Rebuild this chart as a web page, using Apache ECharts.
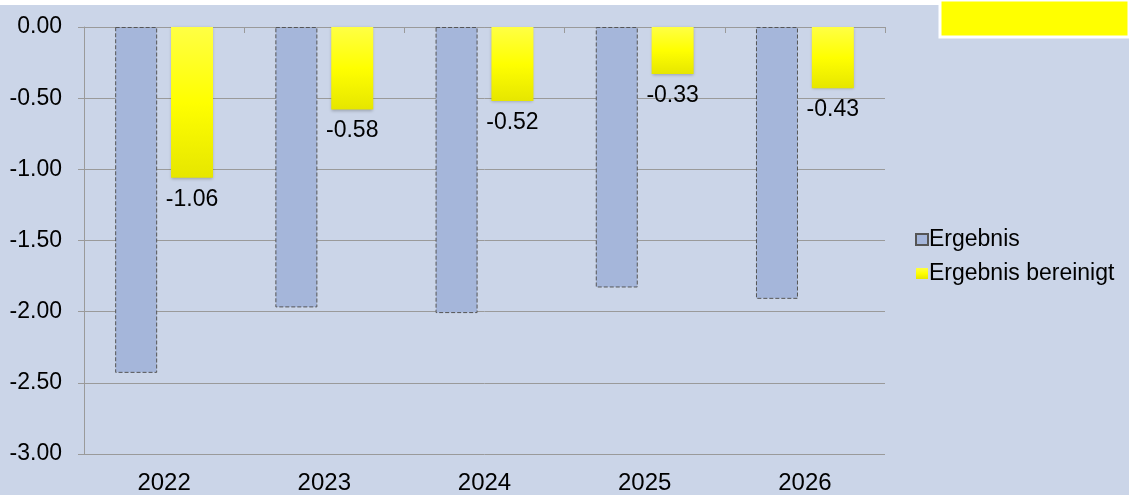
<!DOCTYPE html>
<html>
<head>
<meta charset="utf-8">
<script src="https://cdn.jsdelivr.net/npm/echarts@6/dist/echarts.min.js"></script>
<style>
  html, body { margin:0; padding:0; background:#fff; }
  #chart { width:1129px; height:495px; }
</style>
</head>
<body>
<div id="chart"></div>
<script>
// Jahre
var years = ["2022", "2023", "2024", "2025", "2026"];
// Ergebnis
var ergebnis = [-2.43, -1.97, -2.01, -1.83, -1.91];
// Ergebnis bereinigt
var bereinigt = [-1.06, -0.58, -0.52, -0.33, -0.43];

var chart = echarts.init(document.getElementById("chart"));
var option = {
  backgroundColor: "#ffffff",
  animation: false,
  textStyle: { fontFamily: "Liberation Sans, Arial, sans-serif" },
  graphic: [
    { type: "rect", z: -10, shape: { x: 0, y: 5, width: 1129, height: 490 }, style: { fill: "#cbd5e8" } },
    { type: "rect", z: 10, shape: { x: 940, y: 0, width: 189, height: 37 }, style: { fill: "#ffff00", stroke: "#ffffff", lineWidth: 3 } }
  ],
  grid: { left: 84, right: 244, top: 27, bottom: 40 },
  legend: {
    orient: "vertical",
    left: 910,
    top: 223,
    itemWidth: 12,
    itemHeight: 11,
    itemGap: 11,
    icon: "rect",
    textStyle: { fontSize: 23, color: "#000", padding: [0, 0, 0, -4] },
    data: ["Ergebnis", "Ergebnis bereinigt"]
  },
  xAxis: [
    {
      type: "category",
      data: years,
      position: "bottom",
      axisLine: { show: false },
      axisTick: { show: false },
      axisLabel: { fontSize: 24, color: "#000", margin: 17 }
    },
    {
      type: "category",
      data: years,
      position: "top",
      axisLine: { show: true, lineStyle: { color: "#9a9a9a", width: 1 } },
      axisTick: { show: true, inside: true, length: 6, lineStyle: { color: "#9a9a9a" } },
      axisLabel: { show: false }
    }
  ],
  yAxis: {
    type: "value",
    min: -3,
    max: 0,
    interval: 0.5,
    axisLine: { show: true, lineStyle: { color: "#9a9a9a" } },
    axisTick: { show: true, length: 6, lineStyle: { color: "#9a9a9a" } },
    axisLabel: {
      fontSize: 23,
      color: "#000",
      margin: 22,
      formatter: function (v) { return v.toFixed(2); }
    },
    splitLine: { lineStyle: { color: "#9a9a9a", width: 1 } }
  },
  series: [
    {
      name: "Ergebnis",
      type: "bar",
      xAxisIndex: 0,
      data: ergebnis,
      barWidth: 42,
      barGap: "33%",
      itemStyle: {
        color: "#a5b6da",
        borderColor: "#555555",
        borderWidth: 1,
        borderType: "dashed"
      }
    },
    {
      name: "Ergebnis bereinigt",
      type: "bar",
      xAxisIndex: 0,
      data: bereinigt,
      barWidth: 42,
      itemStyle: {
        color: new echarts.graphic.LinearGradient(0, 0, 0, 1, [
          { offset: 0, color: "#ffff44" },
          { offset: 0.5, color: "#ffff00" },
          { offset: 1, color: "#e6e600" }
        ]),
        shadowColor: "rgba(0,0,0,0.25)",
        shadowBlur: 3,
        shadowOffsetY: 1
      },
      label: {
        show: true,
        position: "bottom",
        distance: 10,
        fontSize: 23,
        color: "#000",
        formatter: function (p) { return p.value.toFixed(2); }
      }
    }
  ]
};
chart.setOption(option);
</script>
</body>
</html>
